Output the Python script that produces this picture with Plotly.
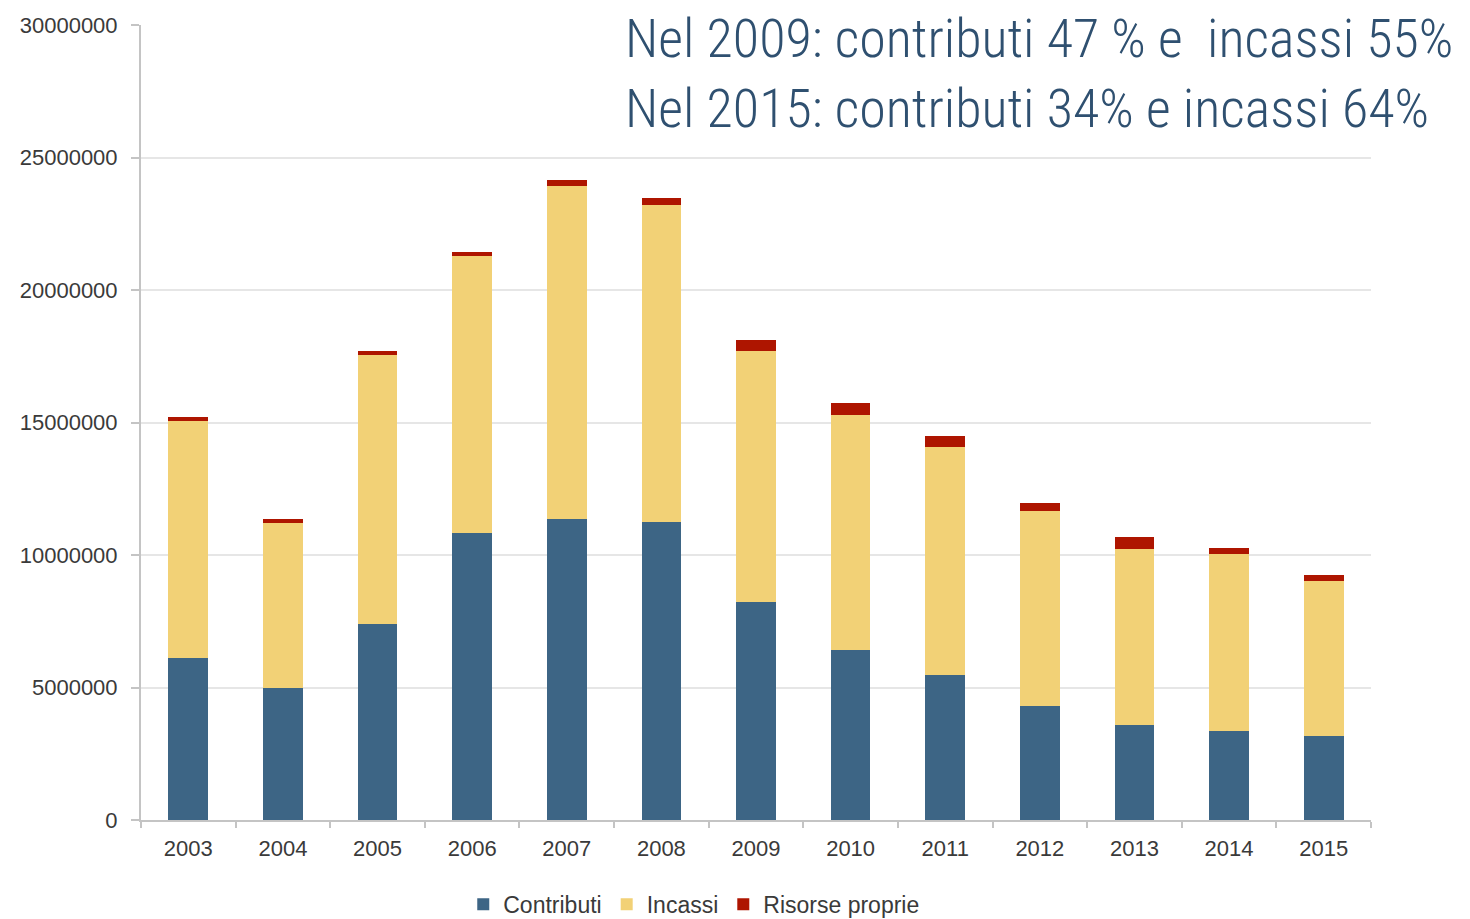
import plotly.graph_objects as go

years = ["2003", "2004", "2005", "2006", "2007", "2008", "2009",
         "2010", "2011", "2012", "2013", "2014", "2015"]
contributi = [6110000, 4980000, 7400000, 10830000, 11360000, 11250000, 8230000,
              6420000, 5470000, 4300000, 3580000, 3360000, 3170000]
incassi = [8950000, 6230000, 10150000, 10450000, 12560000, 11960000, 9470000,
           8870000, 8620000, 7360000, 6660000, 6680000, 5860000]
risorse_proprie = [150000, 150000, 150000, 150000, 230000, 260000, 410000,
                   430000, 410000, 310000, 430000, 220000, 220000]
y_ticks = [0, 5000000, 10000000, 15000000, 20000000, 25000000, 30000000]
headline = ["Nel 2009: contributi 47 % e  incassi 55%",
            "Nel 2015: contributi 34% e incassi 64%"]

fig = go.Figure()
fig.add_bar(x=years, y=contributi, name="Contributi", marker_color="#3d6585",
            marker_line_width=0)
fig.add_bar(x=years, y=incassi, name="Incassi", marker_color="#f2d176",
            marker_line_width=0)
fig.add_bar(x=years, y=risorse_proprie, name="Risorse proprie",
            marker_color="#ae1500", marker_line_width=0)

# page body has an 8px margin: shift margins to compensate
fig.update_layout(
    width=1470, height=919,
    barmode="stack", bargap=0.58,
    paper_bgcolor="white", plot_bgcolor="white",
    margin=dict(l=133, r=107, t=17, b=107, autoexpand=False),
    font=dict(family="Liberation Sans, Arial, sans-serif", size=22, color="#3a3a3a"),
    showlegend=True,
    legend=dict(orientation="h", x=0.262, xanchor="left", y=-0.079, yanchor="top",
                font=dict(size=23, color="#3a3a3a"), itemwidth=30,
                traceorder="normal", itemsizing="constant"),
    xaxis=dict(type="category", range=[-0.5, 12.5], showline=True, linecolor="#c4c4c4",
               linewidth=2, ticks="outside", tickson="boundaries", ticklen=6,
               tickcolor="#c4c4c4", tickwidth=2, showgrid=False,
               ticklabelstandoff=8,
               tickfont=dict(size=22, color="#3a3a3a")),
    yaxis=dict(range=[0, 30000000], tickvals=y_ticks,
               ticktext=[str(v) for v in y_ticks], showline=True,
               linecolor="#c4c4c4", linewidth=2, ticks="outside", ticklen=8,
               tickcolor="#c4c4c4", tickwidth=2, showgrid=True,
               gridcolor="#e6e6e6", gridwidth=2, zeroline=False,
               ticklabelstandoff=9,
               tickfont=dict(size=22, color="#3a3a3a")),
)

fig.add_annotation(
    xref="paper", yref="paper", x=0.392, y=1.025, xanchor="left", yanchor="top",
    text="<br>".join(headline), showarrow=False, align="left",
    font=dict(family="Roboto Condensed, sans-serif", size=54, color="#2f5070",
              weight=300),
)

fig.write_html("out.html")
